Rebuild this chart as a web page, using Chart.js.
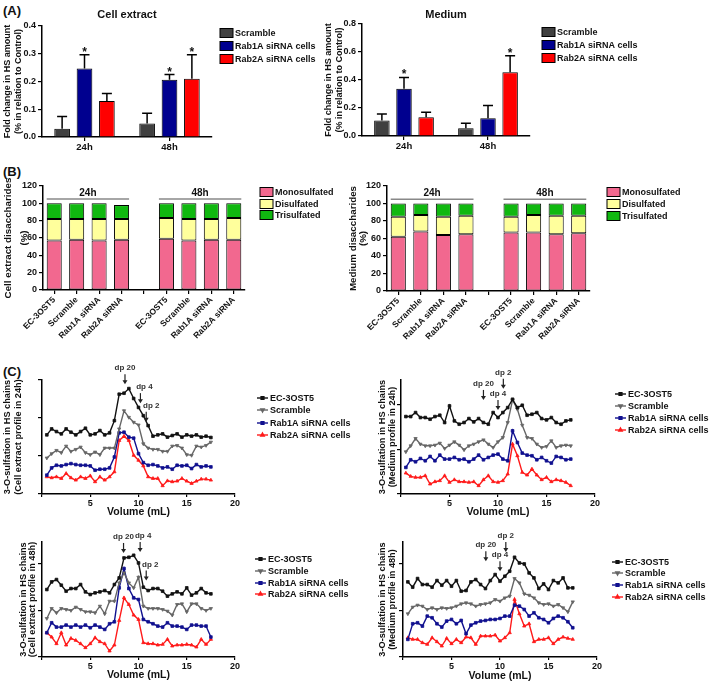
<!DOCTYPE html>
<html>
<head>
<meta charset="utf-8">
<script src="https://cdn.jsdelivr.net/npm/chart.js@4.4.1/dist/chart.umd.min.js"></script>
<style>
  body { margin: 0; background: #fff; width: 709px; height: 684px; position: relative; overflow: hidden; }
  canvas { position: absolute; }
  .tag { position: absolute; font: bold 13px "Liberation Sans", Arial, sans-serif; color: #111; }
</style>
</head>
<body>
<div class="tag" style="left:3px;top:3px">(A)</div>
<div class="tag" style="left:3px;top:164px">(B)</div>
<div class="tag" style="left:3px;top:364px">(C)</div>

<canvas id="aCell" width="320" height="160" style="left:0;top:0"></canvas>
<canvas id="aMed" width="389" height="160" style="left:320px;top:0"></canvas>
<canvas id="bCell" width="355" height="172" style="left:0;top:178px"></canvas>
<canvas id="bMed" width="364" height="172" style="left:345px;top:178px"></canvas>
<canvas id="c24Cell" width="355" height="165" style="left:0;top:360px"></canvas>
<canvas id="c24Med" width="354" height="165" style="left:355px;top:360px"></canvas>
<canvas id="c48Cell" width="355" height="159" style="left:0;top:525px"></canvas>
<canvas id="c48Med" width="354" height="159" style="left:355px;top:525px"></canvas>

<script>
// ---- (A) HS amount ----
var timeGroups = ['24h', '48h'];
var seriesA = ['Scramble', 'Rab1A siRNA cells', 'Rab2A siRNA cells'];
var cellScramble = [0.03, 0.049];
var cellRab1A = [0.247, 0.206];
var cellRab2A = [0.13, 0.21];
var cellScrambleErr = [0.044, 0.037];
var cellRab1AErr = [0.049, 0.019];
var cellRab2AErr = [0.027, 0.086];
var cellStars = [[false, false], [true, true], [false, true]];
var medScramble = [0.11, 0.055];
var medRab1A = [0.337, 0.127];
var medRab2A = [0.134, 0.456];
var medScrambleErr = [0.048, 0.036];
var medRab1AErr = [0.081, 0.09];
var medRab2AErr = [0.036, 0.117];
var medStars = [[false, false], [true, false], [false, true]];

// ---- (B) disaccharides (%) ----
var samplesB = ['EC-3OST5', 'Scramble', 'Rab1A siRNA', 'Rab2A siRNA', '', 'EC-3OST5', 'Scramble', 'Rab1A siRNA', 'Rab2A siRNA'];
var cellMono = [57, 58, 57, 58, null, 59, 57, 58, 58];
var cellDi = [25, 24, 25, 24, null, 24, 25, 24, 25];
var cellTri = [18, 18, 18, 16, null, 17, 18, 18, 17];
var medMono = [62, 68, 64, 65, null, 67, 67, 65, 66];
var medDi = [23, 19, 21, 21, null, 18, 20, 21, 20];
var medTri = [15, 13, 15, 14, null, 15, 13, 14, 14];

// ---- (C) 3-O-sulfation profiles (arbitrary units) ----
var volume = [0.5, 1, 1.5, 2, 2.5, 3, 3.5, 4, 4.5, 5, 5.5, 6, 6.5, 7, 7.5, 8, 8.5, 9, 9.5, 10, 10.5, 11, 11.5, 12, 12.5, 13, 13.5, 14, 14.5, 15, 15.5, 16, 16.5, 17, 17.5];
var volTicks = [5, 10, 15, 20];
var seriesC = ['EC-3OST5', 'Scramble', 'Rab1A siRNA cells', 'Rab2A siRNA cells'];

var cell24EC = [179,197,189,182,197,187,179,189,199,179,182,192,179,185,222,302,305,319,289,262,237,207,175,179,182,172,177,182,172,179,175,179,172,175,171];
var cell24Scr = [109,122,132,125,145,129,135,142,125,119,127,119,139,139,139,197,252,232,217,209,152,139,135,135,129,129,145,147,139,119,117,145,142,147,157];
var cell24R1 = [57,79,87,85,89,92,89,87,87,85,72,75,75,79,112,185,187,172,169,122,95,87,89,85,79,82,75,87,85,87,77,89,82,85,82];
var cell24R2 = [52,49,52,47,62,49,42,52,47,55,37,52,42,52,67,162,175,162,117,102,85,52,47,47,25,40,37,39,47,39,32,39,45,45,42];

var med24EC = [233,233,245,230,230,225,233,237,215,265,220,210,215,227,217,227,215,210,245,230,245,260,285,260,267,237,240,245,227,223,230,215,210,220,223];
var med24Scr = [127,145,167,150,145,145,147,153,137,147,157,147,133,145,150,157,163,150,140,157,170,215,283,255,207,170,167,150,140,143,160,140,145,147,145];
var med24R1 = [80,103,97,107,100,113,100,117,105,105,110,103,105,97,105,117,103,110,117,120,105,100,190,155,123,117,115,103,110,100,93,113,110,103,105];
var med24R2 = [63,53,50,50,55,30,37,40,55,35,43,37,37,35,37,25,43,55,37,35,40,60,150,115,65,57,75,57,43,50,37,43,40,35,25];

var cell48EC = [203,226,233,216,198,206,206,218,196,188,193,196,200,193,218,238,298,300,306,283,210,200,206,206,198,183,190,196,190,208,186,193,206,193,190];
var cell48Scr = [116,146,133,146,143,140,150,143,136,136,133,153,130,168,168,223,253,223,208,240,153,146,146,146,143,138,126,158,160,136,160,160,146,140,146];
var cell48R1 = [73,103,90,90,96,90,96,90,96,88,96,90,83,100,106,208,266,206,178,173,113,106,100,93,90,103,93,93,90,83,96,96,93,93,60];
var cell48R2 = [73,60,40,73,36,56,50,40,28,40,58,46,40,18,36,110,178,158,126,113,43,40,40,36,38,53,33,36,36,38,36,30,53,38,53];

var med48EC = [226,210,236,218,218,210,230,216,230,213,230,198,200,226,233,218,206,230,248,228,243,258,300,283,280,253,238,206,220,203,230,223,238,208,208];
var med48Scr = [130,150,156,153,143,148,143,148,146,148,153,160,163,160,153,158,160,163,173,168,178,183,236,223,190,186,178,163,158,160,153,158,148,136,166];
var med48R1 = [53,100,103,93,123,118,100,90,108,113,100,110,70,96,103,108,110,113,113,116,123,123,156,153,143,123,133,118,113,103,116,123,118,106,88];
var med48R2 = [58,53,53,43,38,58,46,33,56,40,53,43,60,58,38,63,63,63,66,48,58,73,173,130,93,100,46,53,53,58,40,53,60,56,53];

var FONT = '"Liberation Sans", Arial, Helvetica, sans-serif';
Chart.defaults.font.family = FONT;
Chart.defaults.font.weight = 'bold';
Chart.defaults.color = '#111';
Chart.defaults.animation = false;

// error bars, stars, group brackets, dp arrows and the side legend
var extras = {
  id: 'extras',
  afterDatasetsDraw: function(chart, args, o) {
    var ctx = chart.ctx, ys = chart.scales.y, xs = chart.scales.x;
    ctx.save();
    if (o.err) {
      chart.data.datasets.forEach(function(ds, i) {
        chart.getDatasetMeta(i).data.forEach(function(bar, j) {
          var top = ys.getPixelForValue(ds.data[j] + o.err[i][j]);
          ctx.strokeStyle = '#000';
          ctx.lineWidth = 1.5;
          ctx.beginPath();
          ctx.moveTo(bar.x, bar.y);
          ctx.lineTo(bar.x, top);
          ctx.moveTo(bar.x - 5, top);
          ctx.lineTo(bar.x + 5, top);
          ctx.stroke();
          if (o.stars[i][j]) {
            ctx.fillStyle = '#111';
            ctx.font = 'bold 12px ' + FONT;
            ctx.textAlign = 'center';
            ctx.textBaseline = 'alphabetic';
            ctx.fillText('*', bar.x, top + 1);
          }
        });
      });
    }
    if (o.groups) {
      var bars = chart.getDatasetMeta(0).data;
      var gy = ys.getPixelForValue(o.groupY);
      o.groups.forEach(function(g) {
        var x1 = bars[g.from].x - bars[g.from].width / 2;
        var x2 = bars[g.to].x + bars[g.to].width / 2;
        ctx.strokeStyle = '#888';
        ctx.lineWidth = 1.5;
        ctx.beginPath();
        ctx.moveTo(x1, gy);
        ctx.lineTo(x2, gy);
        ctx.stroke();
        ctx.fillStyle = '#111';
        ctx.font = 'bold 10px ' + FONT;
        ctx.textAlign = 'center';
        ctx.textBaseline = 'bottom';
        ctx.fillText(g.text, (x1 + x2) / 2, gy - 1);
      });
    }
    if (o.arrows) {
      o.arrows.forEach(function(a) {
        var px = xs.getPixelForValue(a.x), py = ys.getPixelForValue(a.y);
        ctx.strokeStyle = '#222';
        ctx.fillStyle = '#222';
        ctx.lineWidth = 1.2;
        ctx.beginPath();
        ctx.moveTo(px, py - 10);
        ctx.lineTo(px, py - 3);
        ctx.stroke();
        ctx.beginPath();
        ctx.moveTo(px - 2.5, py - 4);
        ctx.lineTo(px + 2.5, py - 4);
        ctx.lineTo(px, py);
        ctx.closePath();
        ctx.fill();
        ctx.fillStyle = '#333';
        ctx.font = 'bold 8px ' + FONT;
        ctx.textAlign = 'center';
        ctx.textBaseline = 'bottom';
        ctx.fillText(a.text, px + (a.dx || 0), py - 12);
      });
    }
    ctx.restore();
  },
  afterDraw: function(chart, args, o) {
    var L = o.legend;
    if (!L) return;
    var ctx = chart.ctx;
    var x0 = chart.chartArea.right + L.dx;
    ctx.save();
    chart.data.datasets.forEach(function(ds, i) {
      var yy = L.rows[i], tx;
      if (L.kind === 'box') {
        ctx.fillStyle = ds.backgroundColor;
        ctx.fillRect(x0, yy - 4.5, 13, 9);
        ctx.strokeStyle = '#000';
        ctx.lineWidth = 1;
        ctx.strokeRect(x0, yy - 4.5, 13, 9);
        tx = x0 + 15;
      } else {
        ctx.strokeStyle = ds.borderColor;
        ctx.fillStyle = ds.borderColor;
        ctx.lineWidth = 1.4;
        ctx.beginPath();
        ctx.moveTo(x0, yy);
        ctx.lineTo(x0 + 11, yy);
        ctx.stroke();
        Chart.helpers.drawPoint(ctx, { pointStyle: ds.pointStyle, rotation: ds.pointRotation || 0, radius: 2, borderWidth: 0.8 }, x0 + 5.5, yy);
        tx = x0 + 13;
      }
      ctx.fillStyle = '#111';
      ctx.font = 'bold 9px ' + FONT;
      ctx.textAlign = 'left';
      ctx.textBaseline = 'middle';
      ctx.fillText(ds.label, tx, yy + 0.5);
    });
    ctx.restore();
  }
};
Chart.register(extras);

function yAxis(width, title, size, lh, pt, extra) {
  var ax = {
    afterFit: function(s) { s.width = width; },
    border: { color: '#000', width: 1.5 },
    grid: { drawOnChartArea: false, color: '#000', tickLength: 4, lineWidth: 1.2 },
    title: { display: true, text: title, font: { size: size, lineHeight: lh }, padding: { top: pt, bottom: 0 } }
  };
  return Object.assign(ax, extra);
}

function xAxisCat(height, extra) {
  var ax = {
    afterFit: function(s) { s.height = height; },
    border: { color: '#000', width: 1.5 },
    grid: { drawOnChartArea: false, offset: false, color: '#000', tickLength: 4, lineWidth: 1.2 }
  };
  return Object.assign(ax, extra);
}

// ---------- (A) ----------
function barChartA(id, title, vals, errs, stars, yMax, yStep, padRight, xH, titlePad, yPt) {
  var colors = ['#404040', '#00008f', '#ff0000'];
  return new Chart(document.getElementById(id), {
    type: 'bar',
    data: {
      labels: timeGroups,
      datasets: seriesA.map(function(name, i) {
        return { label: name, data: vals[i], backgroundColor: colors[i], borderColor: '#000', borderWidth: 1 };
      })
    },
    options: {
      responsive: false,
      layout: { padding: { top: 8, right: padRight, left: 0, bottom: 0 } },
      datasets: { bar: { categoryPercentage: 0.79, barPercentage: 0.7 } },
      plugins: {
        legend: { display: false },
        tooltip: { enabled: false },
        title: { display: true, text: title, fullSize: false, font: { size: 11, weight: 'bold' }, padding: { top: 0, bottom: titlePad }, color: '#111' },
        extras: { err: errs, stars: stars, legend: { kind: 'box', dx: padRight === 108 ? 8 : 12, rows: padRight === 108 ? [33, 46, 59] : [32, 45, 58] } }
      },
      scales: {
        x: xAxisCat(xH, { ticks: { font: { size: 9.5 }, padding: 1 } }),
        y: yAxis(42, ['Fold change in HS amount', '(% in relation to Control)'], 9, 1.25, yPt, {
          min: 0, max: yMax,
          ticks: { stepSize: yStep, font: { size: 9 }, padding: 2, callback: function(v) { return v.toFixed(1); } }
        })
      }
    }
  });
}

barChartA('aCell', 'Cell extract', [cellScramble, cellRab1A, cellRab2A],
  [cellScrambleErr, cellRab1AErr, cellRab2AErr], cellStars, 0.4, 0.1, 108, 23, 4.8, 1.4);
barChartA('aMed', 'Medium', [medScramble, medRab1A, medRab2A],
  [medScrambleErr, medRab1AErr, medRab2AErr], medStars, 0.8, 0.2, 179, 24, 2.8, 2.4);

// ---------- (B) ----------
function stackChartB(id, mono, di, tri, yTitle, yW, yLh, yPt, padRight, xH, legend) {
  return new Chart(document.getElementById(id), {
    type: 'bar',
    data: {
      labels: samplesB,
      datasets: [
        { label: 'Monosulfated', data: mono, backgroundColor: '#f2688f' },
        { label: 'Disulfated', data: di, backgroundColor: '#ffff9c' },
        { label: 'Trisulfated', data: tri, backgroundColor: '#10b810' }
      ].map(function(d) { d.borderColor = '#000'; d.borderWidth = 1; d.borderSkipped = false; return d; })
    },
    options: {
      responsive: false,
      layout: { padding: { top: 8, right: padRight, left: 0, bottom: 0 } },
      datasets: { bar: { categoryPercentage: 1, barPercentage: 0.67 } },
      plugins: {
        legend: { display: false },
        tooltip: { enabled: false },
        extras: {
          groups: [{ from: 0, to: 3, text: '24h' }, { from: 5, to: 8, text: '48h' }],
          groupY: 105,
          legend: legend
        }
      },
      scales: {
        x: xAxisCat(xH, { stacked: true, ticks: { autoSkip: false, minRotation: 45, maxRotation: 45, font: { size: 8.5 }, padding: 1 } }),
        y: yAxis(yW, yTitle, 9.8, yLh, yPt, {
          stacked: true, min: 0, max: 120,
          ticks: { stepSize: 20, font: { size: 9 }, padding: 2 }
        })
      }
    }
  });
}

stackChartB('bCell', cellMono, cellDi, cellTri, ['Cell extract disaccharides', '(%)'], 43, 1.63, 0, 110, 60,
  { kind: 'box', dx: 15, rows: [14, 26, 37] });
stackChartB('bMed', medMono, medDi, medTri, ['Medium disaccharides', '(%)'], 42, 1.0, 3.1, 119, 59,
  { kind: 'box', dx: 17, rows: [14, 26, 38] });

// ---------- (C) ----------
function lineSet(label, vals, color, style, rot) {
  return {
    label: label,
    data: volume.map(function(v, i) { return { x: v, y: vals[i] }; }),
    borderColor: color, backgroundColor: color,
    borderWidth: 1.4, pointStyle: style, pointRotation: rot,
    pointRadius: 1.9, pointBorderWidth: 0.8, tension: 0
  };
}

function profileChart(id, sets, yTitle, yMax, yStep, yW, yLh, yPt, padTop, padRight, xH, xTitlePad, arrows, legend) {
  var colors = ['#111111', '#666666', '#10108f', '#ff1a1a'];
  var styles = [['rect', 0], ['triangle', 180], ['rect', 0], ['triangle', 0]];
  return new Chart(document.getElementById(id), {
    type: 'line',
    data: {
      datasets: seriesC.map(function(name, i) { return lineSet(name, sets[i], colors[i], styles[i][0], styles[i][1]); })
    },
    options: {
      responsive: false,
      layout: { padding: { top: padTop, right: padRight, left: 0, bottom: 0 } },
      plugins: {
        legend: { display: false },
        tooltip: { enabled: false },
        extras: { arrows: arrows, legend: legend }
      },
      scales: {
        x: {
          type: 'linear', min: 0, max: 20,
          afterFit: function(s) { s.height = xH; },
          afterBuildTicks: function(s) { s.ticks = [0].concat(volTicks).map(function(v) { return { value: v }; }); },
          border: { color: '#000', width: 1.5 },
          grid: { drawOnChartArea: false, color: '#000', tickLength: 3, lineWidth: 1.2 },
          ticks: { font: { size: 9 }, padding: 1, callback: function(v) { return v === 0 ? '' : v; } },
          title: { display: true, text: 'Volume (mL)', font: { size: 10.5 }, padding: { top: 0, bottom: xTitlePad } }
        },
        y: yAxis(yW, yTitle, 9.2, yLh, yPt, {
          min: 0, max: yMax,
          ticks: { display: false, stepSize: yStep, includeBounds: false }
        })
      }
    }
  });
}

profileChart('c24Cell', [cell24EC, cell24Scr, cell24R1, cell24R2],
  ['3-O-sulfation in HS chains', '(Cell extract profile in 24h)'], 345, 115, 42, 1.2, 1.5, 20, 120, 31, 6.7,
  [{ x: 8.6, y: 332, text: 'dp 20' }, { x: 10.2, y: 275, text: 'dp 4', dx: 4 }, { x: 10.8, y: 219, text: 'dp 2', dx: 5 }],
  { kind: 'line', dx: 22, rows: [38, 50, 63, 75] });

profileChart('c24Med', [med24EC, med24Scr, med24R1, med24R2],
  ['3-O-sulfation in HS chains', '(Medium profile in 24h)'], 343, 135, 46, 1.09, 22, 20, 114, 31, 6.7,
  [{ x: 8.5, y: 283, text: 'dp 20' }, { x: 10.0, y: 253, text: 'dp 4' }, { x: 10.55, y: 317, text: 'dp 2' }],
  { kind: 'line', dx: 20, rows: [34, 46, 58, 70] });

profileChart('c48Cell', [cell48EC, cell48Scr, cell48R1, cell48R2],
  ['3-O-sulfation in HS chains', '(Cell extract profile in 48h)'], 346, 140, 42, 1.0, 18.4, 17, 120, 27, 2.7,
  [{ x: 8.45, y: 313, text: 'dp 20' }, { x: 10.17, y: 316, text: 'dp 4', dx: 3 }, { x: 10.8, y: 230, text: 'dp 2', dx: 4 }],
  { kind: 'line', dx: 20, rows: [34, 46, 58, 69] });

profileChart('c48Med', [med48EC, med48Scr, med48R1, med48R2],
  ['3-O-sulfation in HS chains', '(Medium profile in 48h)'], 346, 140, 48, 1.09, 22, 17, 112, 27, 1.7,
  [{ x: 8.54, y: 288, text: 'dp 20' }, { x: 10.0, y: 258, text: 'dp 4' }, { x: 10.6, y: 316, text: 'dp 2' }],
  { kind: 'line', dx: 15, rows: [37, 48, 60, 72] });
</script>
</body>
</html>
